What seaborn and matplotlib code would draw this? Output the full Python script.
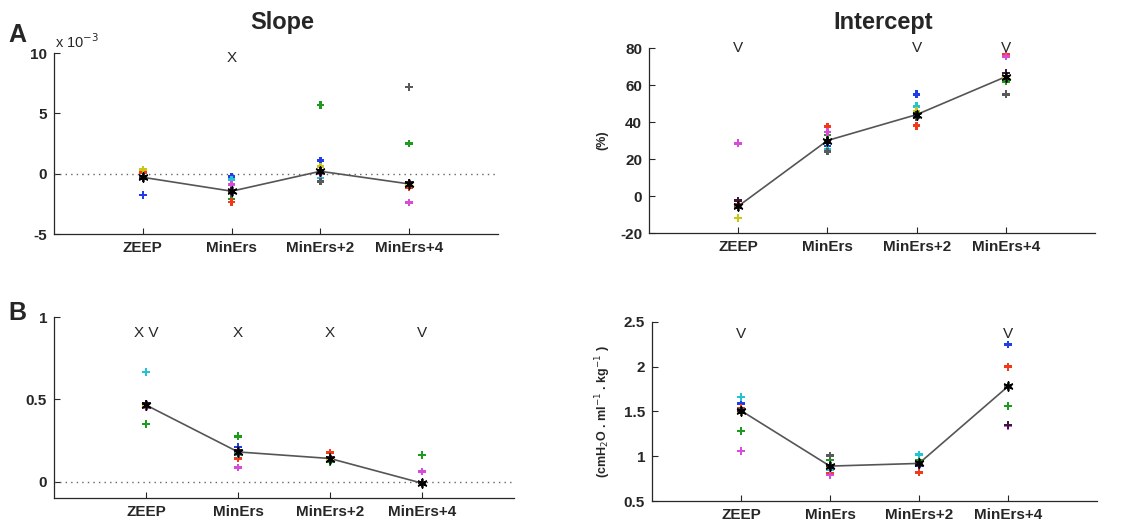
import matplotlib
matplotlib.use("Agg")
import matplotlib.pyplot as plt
import seaborn as sns
import pandas as pd

# Conditions and subjects
conditions = ["ZEEP", "MinErs", "MinErs+2", "MinErs+4"]
subjects = ["s1", "s2", "s3", "s4", "s5", "s6", "s7", "s8"]
subject_colors = ["#1f3de8", "#1e9a1e", "#f03a1a", "#22c4d4",
                  "#d84ad8", "#c8c814", "#5a5a5a", "#3a1a3a"]

# A - slope (x 10^-3), one row per subject
slope_a = [
    [-1.75, -0.25, 1.1, -0.8],
    [-0.3, -2.1, 5.7, 2.5],
    [0.1, -2.35, 0.1, -1.15],
    [-0.2, -0.5, -0.35, -0.9],
    [-0.4, -0.9, 0.0, -2.4],
    [0.35, -1.5, 0.6, -0.9],
    [-0.3, -1.6, -0.65, 7.2],
    [-0.35, -1.45, 0.2, -0.75],
]
slope_a_mean = [-0.3, -1.45, 0.2, -0.85]

# A - intercept (%)
intercept_a = [
    [-5.0, 27.0, 55.0, 65.0],
    [-5.5, 33.0, 45.0, 62.0],
    [-4.5, 37.5, 38.0, 76.5],
    [-6.0, 25.5, 48.5, 64.0],
    [28.5, 34.5, 43.0, 75.5],
    [-12.0, 30.0, 46.0, 64.0],
    [-6.0, 24.0, 42.5, 55.0],
    [-2.5, 30.0, 44.0, 66.5],
]
intercept_a_mean = [-5.5, 30.0, 44.0, 64.5]

# B - slope
slope_b = [
    [0.47, 0.21, 0.14, -0.01],
    [0.35, 0.275, 0.12, 0.16],
    [0.47, 0.14, 0.175, -0.01],
    [0.665, 0.165, 0.14, -0.01],
    [0.45, 0.085, 0.14, 0.06],
    [0.46, 0.18, 0.14, -0.01],
    [0.47, 0.18, 0.145, -0.01],
    [0.475, 0.19, 0.15, -0.01],
]
slope_b_mean = [0.465, 0.18, 0.14, -0.01]

# B - intercept (cmH2O . ml-1 . kg-1)
intercept_b = [
    [1.59, 0.88, 0.89, 2.25],
    [1.28, 0.96, 0.96, 1.56],
    [1.54, 0.81, 0.82, 2.0],
    [1.66, 0.85, 1.02, 1.78],
    [1.06, 0.79, 0.93, 1.34],
    [1.49, 0.88, 0.93, 1.78],
    [1.52, 1.01, 0.92, 1.78],
    [1.51, 0.89, 0.91, 1.35],
]
intercept_b_mean = [1.51, 0.89, 0.92, 1.78]

# significance marks per condition
marks_slope_a = ["", "X", "", ""]
marks_intercept_a = ["V", "", "V", "V"]
marks_slope_b = ["X V", "X", "X", "V"]
marks_intercept_b = ["V", "", "", "V"]

sns.set_style("ticks")
plt.rcParams["font.family"] = ["Liberation Sans", "DejaVu Sans"]


def long_form(values):
    rows = []
    for subj, row in zip(subjects, values):
        for i, v in enumerate(row):
            rows.append({"subject": subj, "x": i + 1, "value": v})
    return pd.DataFrame(rows)


def draw_panel(ax, values, means, marks, ylim, yticks, yticklabels, mark_y, zero_line=False):
    """Draw one panel: subject dots, mean line, marks"""
    df = long_form(values)
    if zero_line:
        ax.axhline(0, color="#666666", ls=(0, (1, 3)), lw=1.0, zorder=1)
    sns.lineplot(x=list(range(1, 5)), y=means, ax=ax, color="#555555", lw=1.2, zorder=2)
    sns.scatterplot(data=df, x="x", y="value", hue="subject", palette=subject_colors,
                    marker="P", s=30, linewidth=0, legend=False, ax=ax, zorder=3)
    sns.scatterplot(x=list(range(1, 5)), y=means, ax=ax, color="black",
                    marker=(6, 2, 0), s=40, linewidth=1.2, zorder=4)
    for i, m in enumerate(marks):
        if m:
            ax.text(i + 1, mark_y, m, ha="center", va="center", fontsize=11)
    ax.set_xlim(0, 5)
    ax.set_ylim(*ylim)
    ax.set_xticks(range(1, 5))
    ax.set_xticklabels(conditions, fontsize=11, fontweight="bold")
    ax.set_yticks(yticks)
    ax.set_yticklabels(yticklabels, fontsize=11, fontweight="bold")
    ax.tick_params(direction="in", length=4, width=0.8, pad=5)
    ax.set_xlabel("")
    for s in ["top", "right"]:
        ax.spines[s].set_visible(False)
    for s in ["left", "bottom"]:
        ax.spines[s].set_linewidth(0.9)


fig = plt.figure(figsize=(11.37, 5.22), dpi=100)
ax1 = fig.add_axes([0.0475, 0.5517, 0.3905, 0.3467])
ax2 = fig.add_axes([0.5708, 0.5536, 0.3923, 0.3544])
ax3 = fig.add_axes([0.0475, 0.046, 0.4046, 0.3467])
ax4 = fig.add_axes([0.5734, 0.0402, 0.3914, 0.343])

draw_panel(ax1, slope_a, slope_a_mean, marks_slope_a, (-5, 10), [-5, 0, 5, 10],
           ["-5", "0", "5", "10"], 9.6, zero_line=True)
draw_panel(ax2, intercept_a, intercept_a_mean, marks_intercept_a, (-20, 80),
           [-20, 0, 20, 40, 60, 80], ["-20", "0", "20", "40", "60", "80"], 80)
draw_panel(ax3, slope_b, slope_b_mean, marks_slope_b, (-0.1, 1), [0, 0.5, 1],
           ["0", "0.5", "1"], 0.9, zero_line=True)
draw_panel(ax4, intercept_b, intercept_b_mean, marks_intercept_b, (0.5, 2.5),
           [0.5, 1, 1.5, 2, 2.5], ["0.5", "1", "1.5", "2", "2.5"], 2.37)

ax1.set_ylabel("")
ax3.set_ylabel("")
ax2.set_ylabel("(%)", fontsize=9, fontweight="bold", labelpad=8)
ax4.set_ylabel(r"(cmH$_2$O . ml$^{-1}$ . kg$^{-1}$ )", fontsize=9,
               fontweight="bold", labelpad=8)

# exponent label, column titles and panel letters
fig.text(55 / 1137, 1 - 42 / 522, r"x 10$^{-3}$", fontsize=10.5, va="center")
fig.text(282 / 1137, 1 - 23 / 522, "Slope", fontsize=17, fontweight="bold",
         ha="center", va="center")
fig.text(883 / 1137, 1 - 23 / 522, "Intercept", fontsize=17, fontweight="bold",
         ha="center", va="center")
fig.text(17 / 1137, 1 - 35 / 522, "A", fontsize=18, fontweight="bold",
         ha="center", va="center")
fig.text(17 / 1137, 1 - 313 / 522, "B", fontsize=18, fontweight="bold",
         ha="center", va="center")

fig.savefig("out.png", dpi=100)
